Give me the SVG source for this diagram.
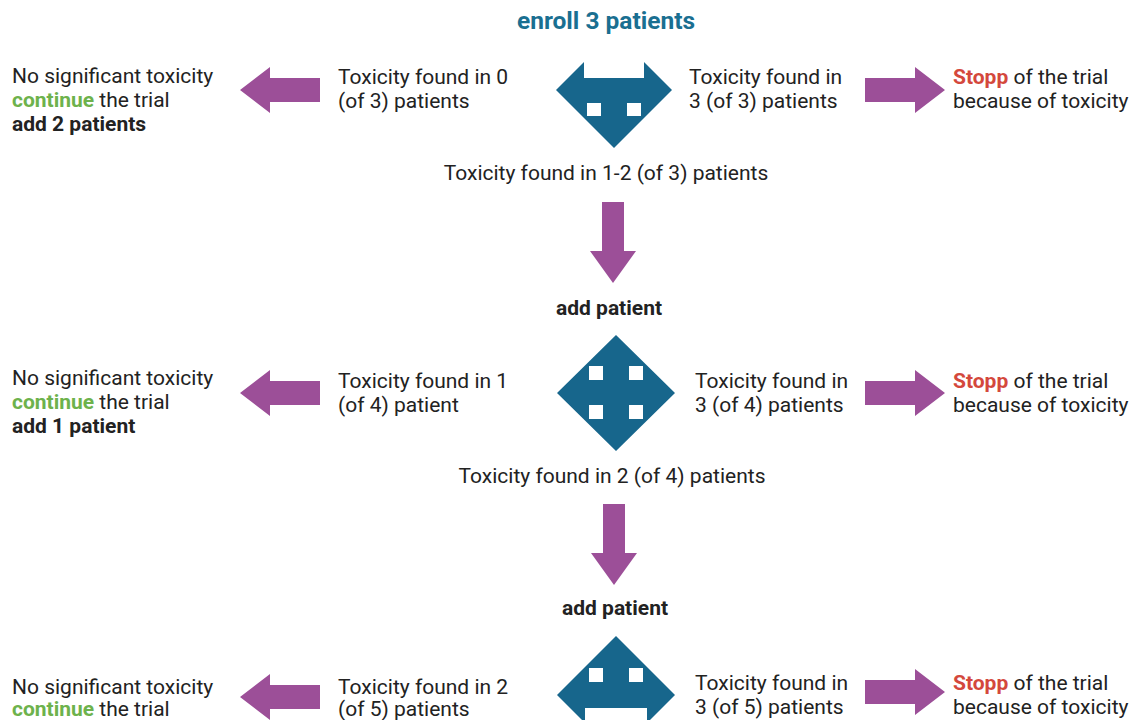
<svg xmlns="http://www.w3.org/2000/svg" width="1139" height="720" viewBox="0 0 1139 720">
<style>
text{font-family:Roboto,"Liberation Sans",sans-serif;font-size:21px;fill:#222}
.b{font-weight:bold}
.t{font-weight:bold;fill:#1a6f91;font-size:24.5px}
.ap{font-weight:bold;font-size:21px}
.g{fill:#6db24c;font-weight:bold}
.r{fill:#d4483c;font-weight:bold}
.c{text-anchor:middle}
.arr{fill:#9c4f98}
.ico{fill:#17668c;fill-rule:evenodd}
</style>
<defs>
<path id="la" d="M0,0 L30,-23 L30,-12 L80,-12 L80,12 L30,12 L30,23 Z"/>
<path id="ra" d="M0,0 L-30,-23 L-30,-12 L-80,-12 L-80,12 L-30,12 L-30,23 Z"/>
<path id="da" d="M0,0 L-23,-32 L-11,-32 L-11,-81 L11,-81 L11,-32 L23,-32 Z"/>
</defs>
<rect width="1139" height="720" fill="#fff"/>
<g id="title"><text class="t c" x="606" y="29">enroll 3 patients</text></g>

<g id="decision1">
<path class="ico" d="M556,90 L584,62 L584,78 L644,78 L644,62 L672,90 L614,148 Z M587,103 h14 v13 h-14 Z M627,103 h14 v13 h-14 Z"/>
</g>
<g id="decision2">
<path class="ico" d="M616,335 L675,393 L616,451 L557,393 Z M589,366 h14 v14 h-14 Z M629,366 h14 v14 h-14 Z M589,405 h14 v14 h-14 Z M629,405 h14 v14 h-14 Z"/>
</g>
<g id="decision3">
<path class="ico" d="M616,636 L675,695 L647,723 L647,708 L585,708 L585,723 L557,695 Z M589,668 h14 v14 h-14 Z M629,668 h14 v14 h-14 Z"/>
</g>

<g id="connectors" class="arr">
<use href="#la" x="240" y="90"/>
<use href="#ra" x="945" y="90"/>
<use href="#da" x="613" y="283"/>
<use href="#la" x="240" y="393"/>
<use href="#ra" x="945" y="393"/>
<use href="#da" x="614" y="585"/>
<use href="#la" x="240" y="697"/>
<use href="#ra" x="945" y="692"/>
</g>

<g id="row1-left"><text x="12" y="83">No significant toxicity</text><text x="12" y="107"><tspan class="g">continue</tspan> the trial</text><text class="b" x="12" y="131">add 2 patients</text></g>
<g id="row1-l-label"><text x="338" y="84">Toxicity found in 0</text><text x="338" y="108">(of 3) patients</text></g>
<g id="row1-r-label"><text x="689" y="84">Toxicity found in</text><text x="689" y="108">3 (of 3) patients</text></g>
<g id="row1-right"><text x="953" y="84"><tspan class="r">Stopp</tspan> of the trial</text><text x="953" y="108">because of toxicity</text></g>
<g id="row1-down"><text class="c" x="606" y="180">Toxicity found in 1-2 (of 3) patients</text></g>
<g id="add1"><text class="ap c" x="609" y="315">add patient</text></g>

<g id="row2-left"><text x="12" y="385">No significant toxicity</text><text x="12" y="409"><tspan class="g">continue</tspan> the trial</text><text class="b" x="12" y="433">add 1 patient</text></g>
<g id="row2-l-label"><text x="338" y="388">Toxicity found in 1</text><text x="338" y="412">(of 4) patient</text></g>
<g id="row2-r-label"><text x="695" y="388">Toxicity found in</text><text x="695" y="412">3 (of 4) patients</text></g>
<g id="row2-right"><text x="953" y="388"><tspan class="r">Stopp</tspan> of the trial</text><text x="953" y="412">because of toxicity</text></g>
<g id="row2-down"><text class="c" x="612" y="483">Toxicity found in 2 (of 4) patients</text></g>
<g id="add2"><text class="ap c" x="615" y="615">add patient</text></g>

<g id="row3-left"><text x="12" y="694">No significant toxicity</text><text x="12" y="716"><tspan class="g">continue</tspan> the trial</text></g>
<g id="row3-l-label"><text x="338" y="694">Toxicity found in 2</text><text x="338" y="716">(of 5) patients</text></g>
<g id="row3-r-label"><text x="695" y="690">Toxicity found in</text><text x="695" y="714">3 (of 5) patients</text></g>
<g id="row3-right"><text x="953" y="690"><tspan class="r">Stopp</tspan> of the trial</text><text x="953" y="714">because of toxicity</text></g>
</svg>
